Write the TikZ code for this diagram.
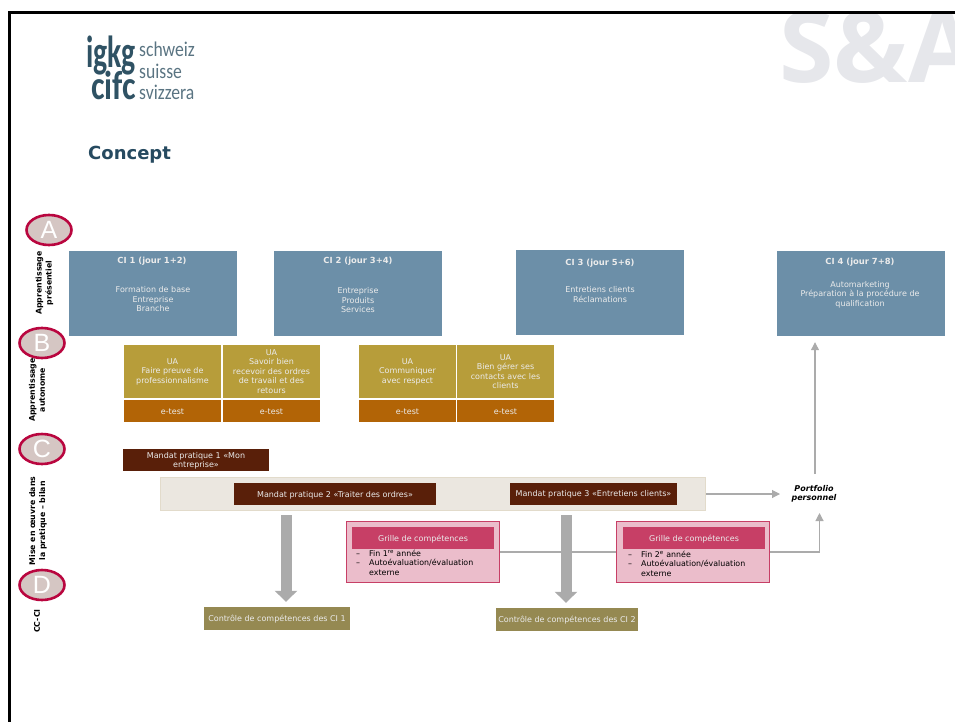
\documentclass[tikz,border=0pt]{standalone}
\usepackage{fontspec}
\setmainfont{DejaVu Sans}
\newfontfamily\logofont{Carlito}
\newfontfamily\marquefont{Open Sans}
\newfontfamily\lettrefont{Liberation Sans}
\usepackage{xcolor}
\usetikzlibrary{arrows.meta,positioning,calc,shapes.geometric}
\definecolor{cibleu}{HTML}{6C8FA8}
\definecolor{uaor}{HTML}{B79D3A}
\definecolor{testbrun}{HTML}{B26406}
\definecolor{mandatbrun}{HTML}{591F09}
\definecolor{bandfond}{HTML}{EBE7E0}
\definecolor{bandbord}{HTML}{E2DBCB}
\definecolor{grillerose}{HTML}{C73F66}
\definecolor{grillefond}{HTML}{EBBDCB}
\definecolor{controle}{HTML}{958952}
\definecolor{rondfond}{HTML}{D5C6C3}
\definecolor{rondbord}{HTML}{B9063F}
\definecolor{titrebleu}{HTML}{264A60}
\definecolor{fleche}{HTML}{ABABAB}
\definecolor{marque}{HTML}{E6E7EB}
\definecolor{logobleu}{HTML}{2F5264}
\definecolor{logogris}{HTML}{5A7482}
\tikzset{
  petit/.style={font=\fontsize{8}{9.5}\selectfont, align=center},
  box/.style={inner sep=0pt, text=white!92!black, petit},
  unligne/.style={text height=6pt, text depth=0pt},
  ci/.style={box, fill=cibleu, minimum width=168, minimum height=85},
  cititre/.style={box, font=\fontsize{8.4}{9.5}\selectfont\bfseries},
  ua/.style={box, fill=uaor, minimum width=97, minimum height=53},
  etest/.style={box, unligne, fill=testbrun, minimum width=97, minimum height=22},
  mandat/.style={box, fill=mandatbrun, minimum height=22},
  grille/.style={fill=grillefond, draw=grillerose, line width=1.2pt, minimum width=153, minimum height=61, inner sep=0pt},
  grilletete/.style={box, unligne, fill=grillerose, minimum width=142, minimum height=22},
  ctrl/.style={box, unligne, fill=controle, minimum height=23},
  rond/.style={ellipse, fill=rondfond, draw=rondbord, line width=2.6pt, minimum width=45, minimum height=30, inner sep=0pt,
    text=white, font=\lettrefont\fontsize{25}{25}\selectfont},
  cote/.style={rotate=90, align=center, font=\fontsize{7.8}{10}\selectfont\bfseries},
  liste/.style={anchor=north west, inner sep=0pt, font=\fontsize{7.9}{9.5}\selectfont},
  mince/.style={draw=fleche, line width=1.1pt},
  pointe/.style={-{Triangle[width=8pt,length=8pt]}},
  gros/.style={draw=fleche, line width=11pt, -{Triangle[width=22pt,length=11pt]}, shorten >=5pt},
  logogros/.style={inner sep=0pt, text=logobleu, font=\logofont\fontsize{45}{45}\selectfont\bfseries},
  logomot/.style={inner sep=0pt, anchor=base west, xscale=.84, text=logogris, font=\logofont\fontsize{21}{21}\selectfont},
}
\newcommand{\lignes}[2]{\begin{tabular}{@{}p{13pt}@{}l@{}}--&#1\\--&#2\\&externe\end{tabular}}
\begin{document}
\begin{tikzpicture}[x=1pt,y=-1pt]
  \useasboundingbox (0,0) rectangle (955,722);
  % en-tete
  \node[anchor=base west, inner sep=0pt, text=marque, font=\marquefont\fontsize{99}{99}\selectfont\bfseries] (marque) at (779,83) {S\&A};
  \fill[white] (0,0) rectangle (955,12);
  \draw[line width=2.4pt] (9.5,722) -- (9.5,12.5) -- (955,12.5);
  \node[logogros, xscale=.66] (igkg) at (111,56) {igkg};
  \node[logogros, xscale=.72, yscale=.9] (cifc) at (113.5,85) {cifc};
  \node[logomot] (schweiz) at (139,57) {schweiz};
  \node[logomot] (suisse) at (139,79) {suisse};
  \node[logomot] (svizzera) at (139,100) {svizzera};
  \node[anchor=west, inner sep=0pt, text=titrebleu, font=\fontsize{18}{18}\selectfont\bfseries] (concept) at (88,155) {Concept};
  % CI
  \node[ci] (ci1) at (153,293.5) {};
  \node[ci] (ci2) at (358,293.5) {};
  \node[ci] (ci3) at (600,292.5) {};
  \node[ci] (ci4) at (860.5,293.5) {};
  \node[cititre] (ci1titre) at (152,261) {CI 1 (jour 1+2)};
  \node[cititre] (ci2titre) at (358,261) {CI 2 (jour 3+4)};
  \node[cititre] (ci3titre) at (600,263) {CI 3 (jour 5+6)};
  \node[cititre] (ci4titre) at (860,262) {CI 4 (jour 7+8)};
  \node[box] (ci1texte) at (153,299.5) {Formation de base\\Entreprise\\Branche};
  \node[box] (ci2texte) at (358,300.5) {Entreprise\\Produits\\Services};
  \node[box] (ci3texte) at (600,294.5) {Entretiens clients\\Réclamations};
  \node[box] (ci4texte) at (860,294.5) {Automarketing\\Préparation à la procédure de\\qualification};
  % UA
  \node[ua] (ua1) at (172.5,371.5) {UA\\Faire preuve de\\professionnalisme};
  \node[ua] (ua2) at (271.5,371.5) {UA\\Savoir bien\\recevoir des ordres\\de travail et des\\retours};
  \node[ua] (ua3) at (407.5,371.5) {UA\\Communiquer\\avec respect};
  \node[ua] (ua4) at (505.5,371.5) {UA\\Bien gérer ses\\contacts avec les\\clients};
  \node[etest] (test1) at (172.5,411) {e-test};
  \node[etest] (test2) at (271.5,411) {e-test};
  \node[etest] (test3) at (407.5,411) {e-test};
  \node[etest] (test4) at (505.5,411) {e-test};
  % mise en oeuvre
  \node[mandat, minimum width=146] (mandat1) at (196,460) {\rule{0pt}{8pt}Mandat pratique 1 «Mon\\entreprise»};
  \node[fill=bandfond, draw=bandbord, line width=1pt, minimum width=545, minimum height=33, inner sep=0pt] (bande) at (433,494) {};
  \node[mandat, unligne, minimum width=202] (mandat2) at (335,494) {Mandat pratique 2 «Traiter des ordres»};
  \node[mandat, unligne, minimum width=167] (mandat3) at (593.5,493.5) {Mandat pratique 3 «Entretiens clients»};
  \node[grille] (grille1) at (423,552) {};
  \node[grille] (grille2) at (693,552) {};
  \node[grilletete] (tete1) at (423,538) {Grille de compétences};
  \node[grilletete] (tete2) at (694,538) {Grille de compétences};
  \node[liste] (liste1) at (356,549.5) {\lignes{Fin 1\textsuperscript{re} année}{Autoévaluation/évaluation}};
  \node[liste] (liste2) at (628,550.5) {\lignes{Fin 2\textsuperscript{e} année}{Autoévaluation/évaluation}};
  \node[inner sep=0pt, align=center, font=\fontsize{8}{9.4}\selectfont\bfseries\itshape] (portfolio) at (814,493.5) {Portfolio\\personnel};
  % controles
  \node[ctrl, minimum width=146] (ctrl1) at (277,618.5) {Contrôle de compétences des CI 1};
  \node[ctrl, minimum width=142] (ctrl2) at (567,619.5) {Contrôle de compétences des CI 2};
  % fleches
  \coordinate (bas1) at (286,515);
  \coordinate (bas2) at (566,515);
  \draw[gros] (bas1) -- (bas1 |- ctrl1.north);
  \draw[gros] (bas2) -- (bas2 |- ctrl2.north);
  \coordinate (portgauche) at (780,494);
  \coordinate (portbas) at (819.5,513);
  \coordinate (porthaut) at (815,474);
  \draw[mince, pointe] (bande.east) -- (portgauche);
  \draw[mince] (grille1.east) -- (grille2.west);
  \draw[mince, pointe] (grille2.east) -| (portbas);
  \draw[mince, pointe, shorten >=6pt] (porthaut) -- (porthaut |- ci4.south);
  % colonne gauche
  \node[cote] (cotea) at (44.5,283) {Apprentissage\\présentiel};
  \node[cote] (coteb) at (37,390) {Apprentissage\\autonome};
  \node[cote] (cotec) at (38,521) {Mise en œuvre dans\\la pratique – bilan};
  \node[cote] (coted) at (37,621) {CC-CI};
  \node[rond] (ronda) at (49,230) {A};
  \node[rond] (rondb) at (42,343) {B};
  \node[rond] (rondc) at (42,449) {C};
  \node[rond] (rondd) at (42,585) {D};
\end{tikzpicture}
\end{document}
